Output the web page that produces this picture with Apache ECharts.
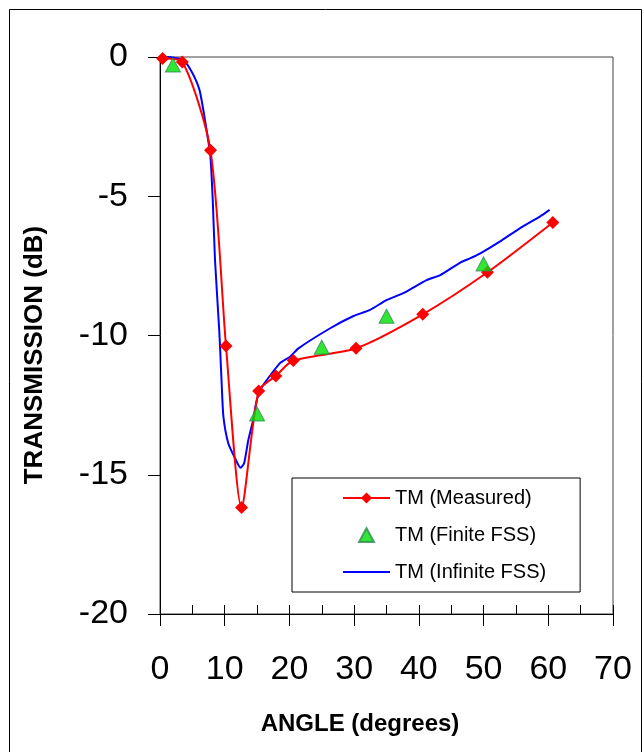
<!DOCTYPE html>
<html>
<head>
<meta charset="utf-8">
<script src="https://cdn.jsdelivr.net/npm/echarts@6/dist/echarts.min.js"></script>
<style>
  html, body { margin: 0; padding: 0; background: #ffffff; }
  #chart { width: 644px; height: 752px; }
</style>
</head>
<body>
<div id="chart"></div>
<script>
// Transmission vs. angle of incidence, TM polarisation
const seriesNames = ['TM (Measured)', 'TM (Finite FSS)', 'TM (Infinite FSS)'];

// Measured transmission (angle in degrees, dB)
const measuredAngle = [0.4, 3.45, 7.8, 10.2, 12.6, 15.25, 17.9, 20.6, 30.3, 40.6, 50.6, 60.7];
const measuredDb    = [-0.05, -0.18, -3.35, -10.38, -16.18, -11.99, -11.45, -10.9, -10.46, -9.24, -7.73, -5.94];

// Finite FSS simulation
const finiteAngle = [2, 15, 25, 35, 50];
const finiteDb    = [-0.29, -12.82, -10.42, -9.31, -7.43];

// Infinite FSS simulation
const infiniteAngle = [0.5, 1.2, 2.5, 3.6, 4.9, 6.1, 6.95, 7.6, 7.75, 7.9, 8.15, 8.5, 9.15, 9.3, 9.55, 9.8,
  10.55, 11.6, 12.45, 13.0, 13.65, 14.4, 14.85, 15.45, 16.5, 18.5, 20.1, 21.4, 26.3, 29.9, 32.45, 35.0,
  37.6, 41.2, 43.3, 46.4, 47.9, 49.5, 52.5, 55.6, 58.7, 60.2];
const infiniteDb = [-0.02, 0, -0.04, -0.11, -0.53, -1.18, -2.26, -3.22, -3.45, -3.94, -5.13, -7.29, -9.8, -10.52, -11.84, -12.92,
  -13.87, -14.41, -14.75, -14.59, -13.75, -13.03, -12.43, -11.96, -11.6, -11.0, -10.76, -10.46, -9.74, -9.3, -9.08, -8.73,
  -8.48, -8.01, -7.83, -7.38, -7.23, -7.05, -6.63, -6.15, -5.73, -5.49];

// Axis ticks
const xTicks = { min: 0, max: 70, step: 10 };
const yTicks = { min: -20, max: 0, step: 5 };
const xTitle = 'ANGLE (degrees)';
const yTitle = 'TRANSMISSION (dB)';

const pairs = (xs, ys) => xs.map((x, i) => [x, ys[i]]);
const FONT = "'Liberation Sans', Arial, sans-serif";

const chart = echarts.init(document.getElementById('chart'), null, { renderer: 'canvas' });

const grid = { left: 160, top: 57, right: 31, bottom: 138 };

chart.setOption({
  animation: false,
  backgroundColor: '#ffffff',
  textStyle: { fontFamily: FONT },
  grid: Object.assign({ show: true, borderColor: '#404040', borderWidth: 1, containLabel: false }, grid),
  xAxis: [
    {
      type: 'value', min: xTicks.min, max: xTicks.max, interval: xTicks.step,
      position: 'bottom',
      axisLine: { show: true, onZero: false, lineStyle: { color: '#000', width: 1 } },
      axisTick: { show: true, inside: false, length: 12, lineStyle: { color: '#000' } },
      axisLabel: { show: true, fontSize: 34, color: '#000', margin: 39, fontFamily: FONT },
      splitLine: { show: false }
    },
    {
      // inner half of the crossing major ticks plus the minor ticks
      type: 'value', min: xTicks.min, max: xTicks.max, interval: xTicks.step,
      position: 'bottom',
      axisLine: { show: false, onZero: false },
      axisTick: { show: true, inside: true, length: 9, lineStyle: { color: '#000' } },
      minorTick: { show: true, splitNumber: 2, length: 9, lineStyle: { color: '#000' } },
      axisLabel: { show: false },
      splitLine: { show: false }
    }
  ],
  yAxis: {
    type: 'value', min: yTicks.min, max: yTicks.max, interval: yTicks.step,
    axisLine: { show: true, onZero: false, lineStyle: { color: '#000', width: 1 } },
    axisTick: { show: true, inside: false, length: 12, lineStyle: { color: '#000' } },
    axisLabel: { show: true, fontSize: 34, color: '#000', margin: 32, padding: [7, 0, 0, 0], fontFamily: FONT },
    splitLine: { show: false }
  },
  legend: {
    left: 292, top: 478,
    orient: 'vertical',
    align: 'left',
    padding: [10, 34, 10, 50],
    itemGap: 17,
    itemWidth: 47,
    itemHeight: 14,
    symbolKeepAspect: true,
    borderColor: '#000',
    borderWidth: 1,
    backgroundColor: '#ffffff',
    textStyle: { fontSize: 20, lineHeight: 20, color: '#000', fontFamily: FONT },
    data: [
      { name: seriesNames[0] },
      { name: seriesNames[1], icon: 'path://M0,14L7.5,0L15,14Z' },
      { name: seriesNames[2], icon: 'path://M0,0H47V2H0Z' }
    ]
  },
  series: [
    {
      name: seriesNames[0], type: 'line',
      data: pairs(measuredAngle, measuredDb),
      smooth: 0.25,
      symbol: 'diamond', symbolSize: 13,
      itemStyle: { color: '#ff0000' },
      lineStyle: { color: '#ff0000', width: 2 },
      z: 3
    },
    {
      name: seriesNames[1], type: 'scatter',
      data: pairs(finiteAngle, finiteDb),
      symbol: 'triangle', symbolSize: [15, 14],
      itemStyle: { color: '#00e000', borderColor: '#2e8b57', borderWidth: 1 },
      z: 4
    },
    {
      name: seriesNames[2], type: 'line',
      data: pairs(infiniteAngle, infiniteDb),
      smooth: 0.2,
      symbol: 'none',
      itemStyle: { color: '#0000ff' },
      lineStyle: { color: '#0000ff', width: 2 },
      z: 2
    }
  ],
  graphic: [
    {
      type: 'rect', silent: true, z: -1,
      shape: { x: 9.5, y: 9.5, width: 632, height: 770 },
      style: { fill: null, stroke: '#000', lineWidth: 1 }
    },
    {
      type: 'text', silent: true,
      x: 360, y: 724,
      style: { text: xTitle, font: "bold 24px 'Liberation Sans', Arial, sans-serif", fill: '#000', textAlign: 'center', textVerticalAlign: 'middle' }
    },
    {
      type: 'text', silent: true,
      x: 35, y: 355, rotation: Math.PI / 2,
      style: { text: yTitle, font: "bold 26px 'Liberation Sans', Arial, sans-serif", fill: '#000', textAlign: 'center', textVerticalAlign: 'middle' }
    }
  ]
});
</script>
</body>
</html>
